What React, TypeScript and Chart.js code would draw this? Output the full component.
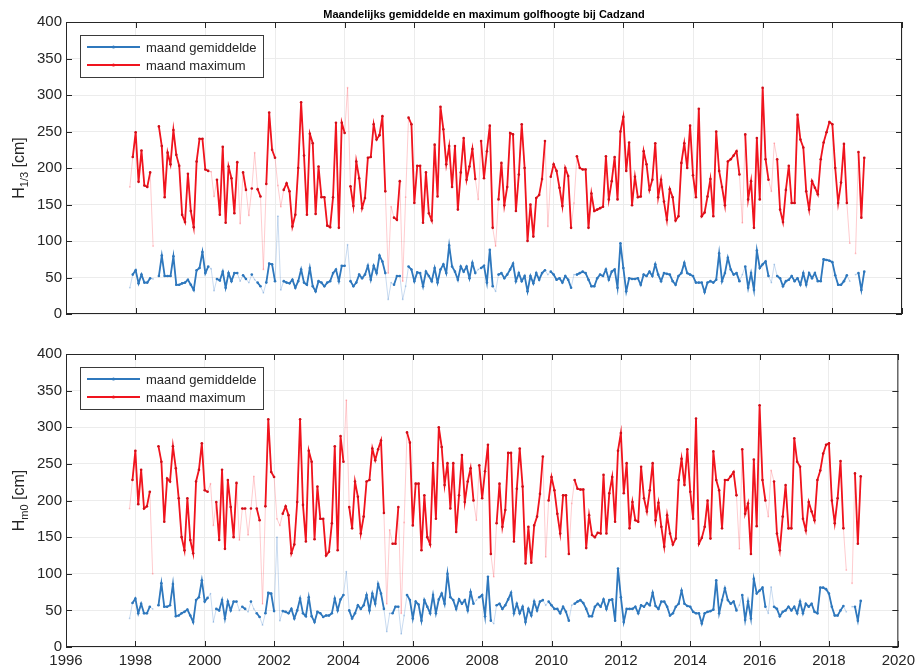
import React, { useEffect, useRef } from 'react';
import { Chart, registerables } from 'chart.js';

Chart.register(...registerables);

const TITLE = 'Maandelijks gemiddelde en maximum golfhoogte bij Cadzand';
const LEGEND_LABELS = ['maand gemiddelde', 'maand maximum'];
const START_YEAR = 1997;
const START_MONTH = 11; // first month: November 1997
const X_MIN = 1996;
const X_MAX = 2020;
const X_STEP = 2;
const Y_MIN = 0;
const Y_MAX = 400;
const Y_STEP = 50;

// months (index from Nov 1997) with low coverage: shown only as a thin pale line
const lowCoverage = [0, 8, 28, 29, 38, 41, 43, 46, 51, 52, 75, 89, 90, 94, 95, 120, 126, 144, 153, 211, 221, 222, 248, 250];

// H1/3 monthly maximum [cm]
const h13Max = [
  174, 215, 249, 181, 224, 176, 174, 194, 93, null,
  257, 230, 160, 221, 205, 252, 218, 203, 136, 126,
  192, 141, 119, 209, 240, 240, 198, 196, 195, 161,
  184, 136, 229, 125, 202, 186, 138, 208, 124, 194,
  170, 135, 172, 221, 171, 161, 61, 178, 276, 225,
  214, 176, 147, 170, 179, 168, 120, 136, 200, 290,
  217, 136, 247, 234, 137, 202, 160, 160, 121, 119,
  160, 262, 118, 262, 248, 310, 175, 148, 209, 186,
  145, 159, 214, 215, 260, 239, 245, 271, 168, 56,
  147, 132, 129, 182, 45, 160, 269, 260, 152, 203,
  203, 125, 194, 138, 128, 232, 161, 284, 253, 205,
  230, 174, 230, 143, 194, 241, 184, 202, 226, 185,
  157, 237, 186, 223, 258, 118, 93, 157, 207, 149,
  174, 248, 246, 141, 191, 260, 200, 100, 150, 106,
  159, 163, 185, 237, 120, 188, 205, 196, 173, 148,
  200, 189, 118, 152, 216, 200, 198, 198, 118, 165,
  141, 143, 145, 147, 216, 157, 182, 215, 157, 250,
  270, 196, 235, 149, 188, 160, 161, 223, 205, 170,
  184, 234, 160, 184, 154, 129, 171, 160, 128, 134,
  207, 234, 200, 258, 190, 160, 281, 134, 139, 161,
  185, 134, 250, 196, 174, 149, 209, 212, 217, 223,
  191, 125, 246, 157, 182, 118, 241, 157, 310, 212,
  184, 168, 234, 212, 143, 126, 170, 203, 152, 152,
  273, 239, 228, 168, 143, 182, 173, 164, 212, 235,
  249, 263, 260, 200, 152, 180, 233, 152, 97, null,
  83, 222, 132, 214,
];

// H1/3 monthly mean [cm]
const h13Mean = [
  36, 54, 60, 42, 54, 43, 43, 49, 48, null,
  52, 80, 52, 52, 52, 79, 40, 40, 42, 43,
  47, 40, 33, 60, 63, 85, 56, 65, 62, 32,
  48, 46, 58, 36, 56, 45, 56, 56, 45, 53,
  48, 43, 54, 47, 43, 38, 29, 43, 69, 68,
  45, 134, 33, 45, 43, 42, 47, 36, 45, 61,
  43, 40, 63, 38, 31, 45, 43, 38, 43, 45,
  56, 61, 45, 66, 66, 95, 45, 38, 43, 54,
  49, 54, 66, 47, 66, 56, 80, 72, 56, 20,
  43, 40, 52, 52, 20, 38, 65, 61, 45, 57,
  56, 38, 58, 52, 45, 63, 43, 61, 68, 56,
  94, 65, 58, 47, 65, 58, 65, 49, 70, 56,
  61, 63, 66, 43, 88, 38, 31, 54, 56, 49,
  54, 61, 69, 45, 56, 45, 52, 31, 52, 42,
  56, 47, 56, 60, 54, 58, 54, 47, 49, 43,
  52, 47, 36, 54, 54, 56, 58, 56, 47, 38,
  38, 49, 54, 52, 61, 47, 58, 61, 36, 97,
  63, 31, 49, 48, 48, 49, 40, 54, 52, 58,
  52, 68, 54, 45, 56, 55, 54, 45, 40, 52,
  56, 70, 56, 54, 52, 43, 43, 43, 30, 43,
  45, 43, 47, 83, 45, 56, 77, 61, 54, 56,
  45, 54, 65, 36, 56, 33, 87, 63, 68, 72,
  52, 43, 68, 52, 49, 38, 45, 47, 52, 45,
  49, 40, 56, 40, 56, 49, 56, 45, 45, 75,
  74, 73, 71, 53, 40, 40, 45, 53, 45, null,
  54, 56, 33, 58,
];

// Hm0 monthly maximum [cm]
const hm0Max = [
  189, 228, 268, 195, 242, 189, 192, 212, 100, null,
  274, 253, 171, 230, 226, 274, 244, 203, 150, 132,
  203, 146, 128, 226, 242, 278, 214, 212, 223, 166,
  198, 146, 242, 134, 228, 191, 150, 224, 146, 189,
  189, 153, 189, 233, 189, 173, 59, 192, 311, 239,
  232, 175, 166, 182, 192, 180, 128, 140, 198, 311,
  194, 144, 268, 253, 147, 219, 175, 175, 125, 130,
  169, 274, 132, 288, 253, 337, 191, 162, 226, 205,
  155, 178, 226, 228, 271, 255, 270, 282, 183, 59,
  160, 141, 141, 191, 46, 170, 293, 279, 166, 223,
  223, 132, 207, 150, 140, 251, 175, 300, 273, 221,
  251, 189, 251, 157, 207, 262, 198, 226, 244, 200,
  173, 248, 203, 240, 276, 127, 96, 169, 223, 164,
  187, 265, 265, 144, 216, 271, 219, 114, 164, 115,
  166, 178, 209, 260, 123, 200, 232, 214, 182, 155,
  207, 207, 127, 196, 228, 216, 215, 215, 135, 180,
  153, 150, 156, 155, 235, 155, 210, 232, 171, 268,
  292, 210, 251, 162, 198, 173, 171, 246, 203, 185,
  214, 251, 173, 197, 164, 137, 180, 155, 140, 148,
  228, 257, 221, 270, 212, 175, 312, 141, 149, 164,
  200, 148, 267, 228, 214, 162, 228, 228, 233, 239,
  207, 134, 270, 182, 196, 127, 256, 165, 330, 228,
  200, 178, 241, 226, 155, 132, 178, 221, 162, 162,
  285, 253, 246, 175, 159, 198, 185, 173, 228, 241,
  264, 276, 278, 200, 169, 203, 254, 162, 105, null,
  87, 237, 141, 233,
];

// Hm0 monthly mean [cm]
const hm0Mean = [
  39, 60, 66, 46, 59, 46, 46, 55, 52, null,
  57, 87, 55, 55, 57, 86, 42, 43, 46, 48,
  51, 43, 34, 64, 68, 91, 62, 67, 73, 34,
  52, 50, 64, 39, 62, 50, 62, 62, 50, 55,
  52, 48, 62, 52, 46, 41, 30, 46, 74, 73,
  49, 150, 36, 49, 48, 46, 52, 39, 50, 66,
  46, 42, 68, 42, 34, 48, 46, 41, 43, 43,
  46, 66, 50, 65, 71, 103, 50, 39, 46, 57,
  52, 57, 71, 50, 73, 59, 86, 73, 52, 21,
  46, 46, 55, 55, 18, 43, 71, 64, 39, 62,
  58, 36, 64, 55, 46, 71, 46, 65, 73, 59,
  100, 68, 64, 52, 65, 59, 64, 50, 75, 59,
  64, 68, 71, 42, 96, 36, 32, 57, 59, 52,
  57, 65, 74, 46, 59, 46, 55, 34, 52, 43,
  62, 50, 62, 64, 57, 62, 57, 52, 52, 46,
  55, 48, 36, 57, 59, 62, 64, 60, 52, 42,
  42, 55, 59, 55, 65, 52, 64, 65, 36, 107,
  68, 34, 52, 52, 52, 55, 46, 57, 55, 60,
  57, 74, 56, 52, 62, 62, 55, 43, 46, 55,
  59, 77, 59, 56, 55, 48, 46, 46, 32, 46,
  48, 49, 51, 91, 46, 64, 80, 64, 59, 62,
  50, 57, 71, 37, 62, 39, 93, 73, 77, 81,
  55, 46, 82, 55, 52, 42, 48, 50, 55, 50,
  55, 46, 62, 46, 59, 55, 59, 48, 46, 81,
  81, 79, 73, 55, 43, 43, 50, 56, 48, null,
  55, 55, 36, 63,
];

const FONT = '"Liberation Sans", Arial, Helvetica, sans-serif';
const AXIS_COLOR = '#262626';
const GRID_COLOR = '#ececec';
const BLUE = '#2f78bd';
const RED = '#f0141e';
const BLUE_FAINT = 'rgba(80,140,205,0.35)';
const RED_FAINT = 'rgba(255,90,100,0.35)';

const xOf = (i: number) => START_YEAR + (START_MONTH - 1) / 12 + i / 12;

function toPoints(values: (number | null)[], goodOnly: boolean) {
  return values.map((v, i) => ({
    x: xOf(i),
    y: goodOnly && lowCoverage.includes(i) ? null : v,
  }));
}

const framePlugin = {
  id: 'frame',
  afterDraw(chart: any) {
    const { ctx, chartArea } = chart;
    const { left, right, top, bottom } = chartArea;
    const xs = chart.scales.x;
    const ys = chart.scales.y;
    ctx.save();
    ctx.strokeStyle = AXIS_COLOR;
    ctx.lineWidth = 1;
    ctx.strokeRect(left + 0.5, top + 0.5, right - left - 1, bottom - top - 1);
    ctx.beginPath();
    for (let v = X_MIN; v <= X_MAX; v += X_STEP) {
      const px = Math.round(xs.getPixelForValue(v)) + 0.5;
      ctx.moveTo(px, bottom);
      ctx.lineTo(px, bottom - 6);
      ctx.moveTo(px, top);
      ctx.lineTo(px, top + 6);
    }
    for (let v = Y_MIN; v <= Y_MAX; v += Y_STEP) {
      const py = Math.round(ys.getPixelForValue(v)) + 0.5;
      ctx.moveTo(left, py);
      ctx.lineTo(left + 6, py);
      ctx.moveTo(right, py);
      ctx.lineTo(right - 6, py);
    }
    ctx.stroke();
    ctx.restore();
  },
};

function legendPlugin() {
  return {
    id: 'boxLegend',
    afterDraw(chart: any) {
      const { ctx, chartArea } = chart;
      const bx = chartArea.left + 14;
      const by = chartArea.top + 13;
      const bw = 183;
      const bh = 42;
      ctx.save();
      ctx.fillStyle = '#ffffff';
      ctx.fillRect(bx, by, bw, bh);
      ctx.strokeStyle = '#3a3a3a';
      ctx.lineWidth = 1;
      ctx.strokeRect(bx + 0.5, by + 0.5, bw, bh);
      const rows = [
        { label: LEGEND_LABELS[0], color: BLUE, y: by + 12 },
        { label: LEGEND_LABELS[1], color: RED, y: by + 30 },
      ];
      ctx.font = `13px ${FONT}`;
      ctx.textBaseline = 'middle';
      rows.forEach((r) => {
        ctx.strokeStyle = r.color;
        ctx.lineWidth = 1.8;
        ctx.beginPath();
        ctx.moveTo(bx + 7, r.y);
        ctx.lineTo(bx + 60, r.y);
        ctx.stroke();
        ctx.fillStyle = r.color;
        ctx.beginPath();
        ctx.arc(bx + 33.5, r.y, 1.6, 0, Math.PI * 2);
        ctx.fill();
        ctx.fillStyle = AXIS_COLOR;
        ctx.fillText(r.label, bx + 66, r.y + 1);
      });
      ctx.restore();
    },
  };
}

function yTitlePlugin(sub: string) {
  return {
    id: 'yTitle',
    afterDraw(chart: any) {
      const { ctx, chartArea } = chart;
      const cy = (chartArea.top + chartArea.bottom) / 2;
      const f1 = `16px ${FONT}`;
      const f2 = `11px ${FONT}`;
      ctx.save();
      ctx.translate(24, cy);
      ctx.rotate(-Math.PI / 2);
      ctx.fillStyle = AXIS_COLOR;
      ctx.textBaseline = 'alphabetic';
      ctx.textAlign = 'left';
      ctx.font = f1;
      const wH = ctx.measureText('H').width;
      const wR = ctx.measureText(' [cm]').width;
      ctx.font = f2;
      const wS = ctx.measureText(sub).width;
      let x = -(wH + wS + wR) / 2;
      ctx.font = f1;
      ctx.fillText('H', x, 0);
      x += wH;
      ctx.font = f2;
      ctx.fillText(sub, x, 4);
      x += wS;
      ctx.font = f1;
      ctx.fillText(' [cm]', x, 0);
      ctx.restore();
    },
  };
}

const titlePlugin = {
  id: 'topTitle',
  afterDraw(chart: any) {
    const { ctx, chartArea } = chart;
    ctx.save();
    ctx.font = `bold 11px ${FONT}`;
    ctx.fillStyle = '#000000';
    ctx.textAlign = 'center';
    ctx.textBaseline = 'middle';
    ctx.fillText(TITLE, (chartArea.left + chartArea.right) / 2, 15);
    ctx.restore();
  },
};

function buildConfig(meanVals: (number | null)[], maxVals: (number | null)[], opts: { showX: boolean; padTop: number; xHeight: number; sub: string; withTitle: boolean }) {
  const datasets: any[] = [
    {
      label: 'mean-good',
      data: toPoints(meanVals, true),
      borderColor: BLUE,
      backgroundColor: BLUE,
      borderWidth: 1.8,
      pointRadius: 1.3,
      pointBorderWidth: 0,
      pointBackgroundColor: BLUE,
      spanGaps: false,
      order: 0,
    },
    {
      label: 'max-good',
      data: toPoints(maxVals, true),
      borderColor: RED,
      backgroundColor: RED,
      borderWidth: 1.8,
      pointRadius: 1.3,
      pointBorderWidth: 0,
      pointBackgroundColor: '#d0101a',
      spanGaps: false,
      order: 0,
    },
    {
      label: 'mean-all',
      data: toPoints(meanVals, false),
      borderColor: BLUE_FAINT,
      borderWidth: 0.9,
      pointRadius: 0.9,
      pointBorderWidth: 0,
      pointBackgroundColor: BLUE_FAINT,
      spanGaps: false,
      order: 1,
    },
    {
      label: 'max-all',
      data: toPoints(maxVals, false),
      borderColor: RED_FAINT,
      borderWidth: 0.9,
      pointRadius: 0.9,
      pointBorderWidth: 0,
      pointBackgroundColor: RED_FAINT,
      spanGaps: false,
      order: 1,
    },
  ];
  const plugins: any[] = [framePlugin, legendPlugin(), yTitlePlugin(opts.sub)];
  if (opts.withTitle) plugins.push(titlePlugin);
  return {
    type: 'line',
    data: { datasets },
    plugins,
    options: {
      animation: false,
      responsive: false,
      events: [],
      layout: { padding: { left: 0, right: 18, top: opts.padTop, bottom: 0 } },
      plugins: { legend: { display: false }, tooltip: { enabled: false }, title: { display: false } },
      elements: { line: { tension: 0 } },
      scales: {
        x: {
          type: 'linear',
          min: X_MIN,
          max: X_MAX,
          ticks: {
            stepSize: X_STEP,
            display: opts.showX,
            autoSkip: false,
            maxRotation: 0,
            padding: 5,
            color: AXIS_COLOR,
            font: { family: FONT, size: 15 },
            callback: (v: any) => String(v),
          },
          grid: { color: GRID_COLOR, drawTicks: false, lineWidth: 1 },
          border: { display: false },
          afterFit: (s: any) => {
            s.height = opts.xHeight;
          },
        },
        y: {
          min: Y_MIN,
          max: Y_MAX,
          ticks: {
            stepSize: Y_STEP,
            padding: 4,
            color: AXIS_COLOR,
            font: { family: FONT, size: 15 },
          },
          grid: { color: GRID_COLOR, drawTicks: false, lineWidth: 1 },
          border: { display: false },
          afterFit: (s: any) => {
            s.width = 66;
          },
        },
      },
    },
  };
}

function Panel(props: { mean: (number | null)[]; max: (number | null)[]; top: number; height: number; showX: boolean; padTop: number; xHeight: number; sub: string; withTitle: boolean }) {
  const ref = useRef<HTMLCanvasElement | null>(null);
  useEffect(() => {
    if (!ref.current) return;
    const chart = new Chart(ref.current, buildConfig(props.mean, props.max, props) as any);
    return () => chart.destroy();
  }, []);
  return (
    <canvas
      ref={ref}
      width={920}
      height={props.height}
      style={{ position: 'absolute', left: 0, top: props.top, width: 920, height: props.height }}
    />
  );
}

export default function App() {
  return (
    <div style={{ position: 'absolute', left: 0, top: 0, width: 920, height: 671, background: '#ffffff', overflow: 'hidden' }}>
      <Panel mean={h13Mean} max={h13Max} top={0} height={330} showX={false} padTop={22} xHeight={16} sub="1/3" withTitle={true} />
      <Panel mean={hm0Mean} max={hm0Max} top={335} height={336} showX={true} padTop={19} xHeight={24} sub="m0" withTitle={false} />
    </div>
  );
}
